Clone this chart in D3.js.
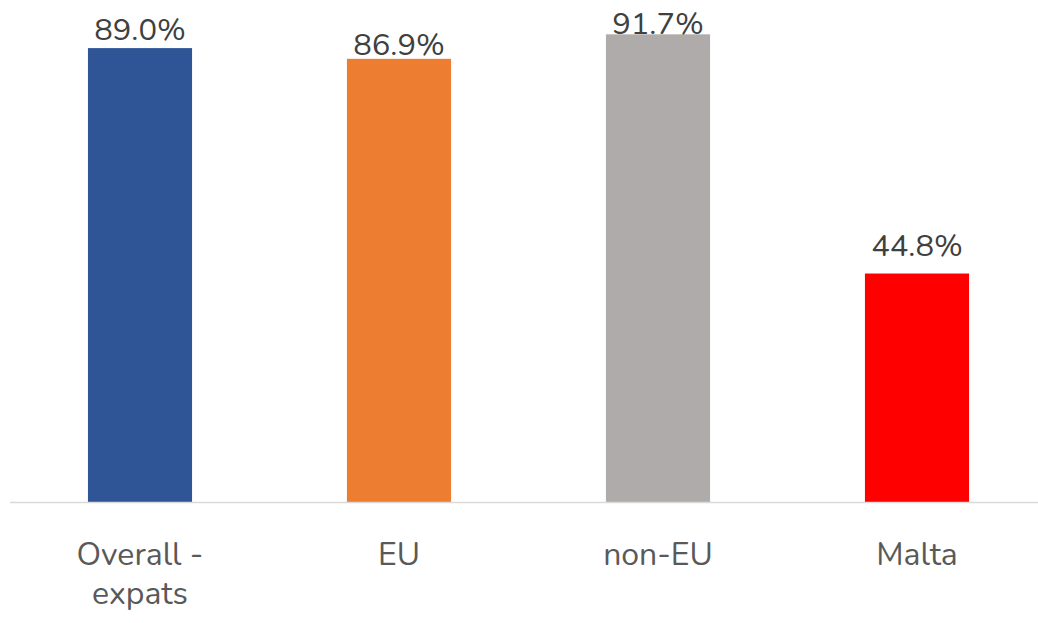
<!DOCTYPE html>
<html><head><meta charset="utf-8">
<script src="https://cdn.jsdelivr.net/npm/d3@7"></script>
<style>body{margin:0;background:#fff}svg{display:block}</style>
</head><body>
<svg id="c" width="1038" height="623"></svg>
<script>
const categories = [["Overall -", "expats"], ["EU"], ["non-EU"], ["Malta"]];
const values = [89.0, 86.9, 91.7, 44.8];
const colors = ["#2F5597", "#ED7D31", "#AFABAB", "#FF0000"];

const svg = d3.select("#c");
const font = "Nunito, Lato, 'Open Sans', sans-serif";
const x = d3.scaleBand().domain(d3.range(values.length)).range([10.5, 1046.5]).paddingInner(0.598).paddingOuter(0.299);
const y = d3.scaleLinear().domain([0, 100]).range([502, -8]);
const labelGap = [8, 4, 0, 18];

svg.selectAll("rect.bar").data(values).join("rect")
  .attr("class", "bar")
  .attr("x", (d, i) => x(i)).attr("width", x.bandwidth())
  .attr("y", d => y(d)).attr("height", d => y(0) - y(d))
  .attr("fill", (d, i) => colors[i]);

const axis = svg.append("g").attr("transform", `translate(0,${y(0)})`)
  .call(d3.axisBottom(x).tickSize(0).tickFormat(""));
axis.select(".domain").attr("stroke", "#D9D9D9").attr("stroke-width", 1.5)
  .attr("d", "M10,0.5H1038");

svg.selectAll("text.val").data(values).join("text")
  .attr("class", "val")
  .attr("x", (d, i) => x(i) + x.bandwidth() / 2)
  .attr("y", (d, i) => y(d) - labelGap[i])
  .attr("text-anchor", "middle")
  .attr("font-family", font).attr("font-size", 31).attr("fill", "#404040")
  .text(d => d.toFixed(1) + "%");

const catG = svg.selectAll("g.cat").data(categories).join("g").attr("class", "cat");
catG.selectAll("text").data((d, i) => d.map(t => ({t, i}))).join("text")
  .attr("text-anchor", "middle")
  .attr("font-family", font).attr("font-size", 32).attr("fill", "#595959")
  .attr("x", d => x(d.i) + x.bandwidth() / 2)
  .attr("y", (d, j) => 564.5 + j * 39)
  .text(d => d.t);
</script>
</body></html>
